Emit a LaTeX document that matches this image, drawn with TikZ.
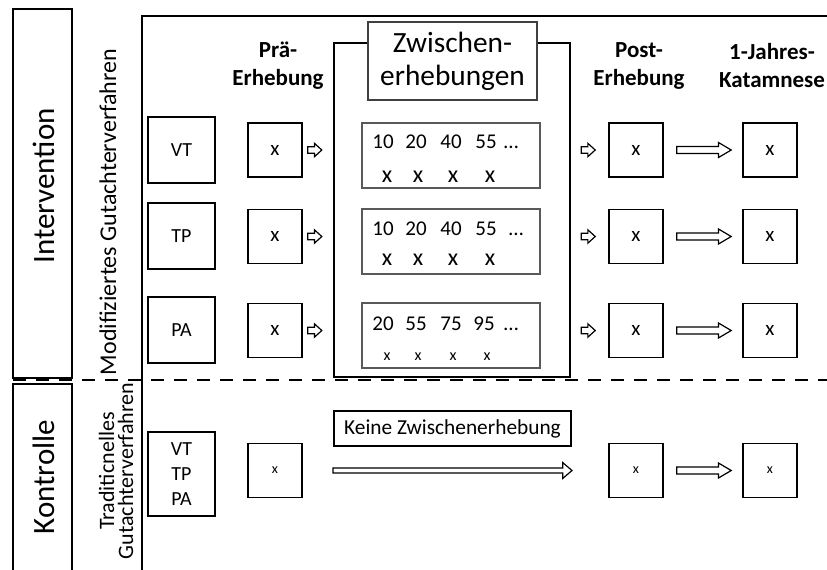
\documentclass[tikz,border=0pt]{standalone}
\usepackage{fontspec}
\setmainfont{Carlito}
\usetikzlibrary{calc}

\tikzset{
  frame/.style={draw, line width=1.5pt},
  sq/.style={draw, line width=1.2pt, inner sep=0pt, minimum width=40.5pt, minimum height=40.5pt,
    font=\fontsize{15.75pt}{18pt}\selectfont},
  grp/.style={draw, line width=1.2pt, inner sep=0pt, minimum width=50.25pt, minimum height=49.5pt,
    align=center, font=\fontsize{15pt}{18.75pt}\selectfont},
  series/.style={draw=black!65, line width=0.8pt, inner sep=0pt, minimum width=133.5pt, minimum height=48.75pt},
  num/.style={anchor=base, inner sep=0pt, font=\fontsize{15.75pt}{18pt}\selectfont},
  mark/.style={anchor=base, inner sep=0pt, font=\fontsize{#1}{18pt}\selectfont},
  head/.style={align=center, inner sep=0pt, font=\bfseries\fontsize{17.25pt}{21pt}\selectfont},
  side/.style={rotate=90, inner sep=0pt, font=\fontsize{23.25pt}{28pt}\selectfont},
  blockarrow/.style n args={3}{draw, fill=white, line width=0.9pt,
    to path={let \p1=(\tikztostart), \p2=(\tikztotarget) in
      (\x1,\y1+#1) -- (\x2-#3,\y1+#1) -- (\x2-#3,\y1+#2) -- (\x2,\y1)
      -- (\x2-#3,\y1-#2) -- (\x2-#3,\y1-#1) -- (\x1,\y1-#1) -- cycle}},
}

\begin{document}
\begin{tikzpicture}[x=0.75pt, y=-0.75pt]
\useasboundingbox (0,0) rectangle (827,569);
\clip (0,0) rectangle (827,569);

% left group labels
\draw[frame] (13,9) rectangle (72,378);
\draw[frame] (13,384) rectangle (72,590);
\node[side] (interv) at (44,186) {Intervention};
\node[side] (kontr) at (44,477) {Kontrolle};
\node[rotate=90, inner sep=0pt, font=\fontsize{18pt}{21pt}\selectfont] (modif) at (108,212)
  {Modifiziertes Gutachterverfahren};
\node[rotate=90, inner sep=0pt, align=center, font=\fontsize{16.5pt}{14.25pt}\selectfont] (trad) at (116,471)
  {Traditicnelles\\Gutachterverfahren};

% outer frame and group separator
\draw[frame] (142,590) -- (142,16) -- (830,16);
\draw[line width=1.5pt, dash pattern=on 9.75pt off 7.5pt] (13,380) -- (830,380);

% column headings
\node[head] (hpre) at (278,66) {Prä-\\Erhebung};
\node[head] (hpost) at (639,66) {Post-\\Erhebung};
\node[head] (hkat) at (772,66) {1-Jahres-\\Katamnese};

% intermediate measurement block
\node[draw, line width=1.5pt, minimum width=177pt, minimum height=250.5pt, inner sep=0pt] (zw) at (452,210) {};
\node[draw=black!75, fill=white, line width=1pt, minimum width=126.75pt, minimum height=58.5pt, inner sep=0pt,
  align=center, font=\fontsize{22pt}{24.75pt}\selectfont] (zwlab) at (452.5,61) {Zwischen-\\erhebungen};

% treatment groups
\node[grp] (g1) at (181.5,150) {VT};
\node[grp] (g2) at (181.5,236) {TP};
\node[grp] (g3) at (181.5,330) {PA};
\node[grp, minimum height=63pt] (g4) at (181.5,474) {VT\\TP\\PA};

% measurement boxes per row: pre, post, follow-up
\foreach \r/\yy in {1/150, 2/236.5, 3/330.5} {
  \node[sq] (pre\r) at (275,\yy) {x};
  \node[sq] (post\r) at (636,\yy) {x};
  \node[sq] (kat\r) at (770,\yy) {x};
}
\node[sq, font=\fontsize{10.5pt}{12pt}\selectfont] (pre4) at (275,470.5) {x};
\node[sq, font=\fontsize{10.5pt}{12pt}\selectfont] (post4) at (636,470.5) {x};
\node[sq, font=\fontsize{10.5pt}{12pt}\selectfont] (kat4) at (770,470.5) {x};

% intermediate measurement series
\node[series] (s1) at (451,155.5) {};
\node[series] (s2) at (451,241.5) {};
\node[series] (s3) at (451,335.5) {};

\foreach \t [count=\i] in {10,20,40,55} {
  \pgfmathsetmacro{\xx}{{383,416,451,486}[\i-1]}
  \node[num] (n1\i) at (\xx,148) {\t};
  \node[num] (n2\i) at (\xx,235) {\t};
}
\node[num] (n15) at (511,148) {…};
\node[num] (n25) at (516,235) {…};
\foreach \t [count=\i] in {20,55,75,95} {
  \pgfmathsetmacro{\xx}{{383,416,451,484}[\i-1]}
  \node[num] (n3\i) at (\xx,330) {\t};
}
\node[num] (n35) at (511,330) {…};

\foreach \i/\xx in {1/387, 2/418, 3/453, 4/490} {
  \node[mark=18pt] (m1\i) at (\xx,182) {x};
  \node[mark=18pt] (m2\i) at (\xx,265) {x};
}
\foreach \i/\xx in {1/387, 2/418, 3/453, 4/487} {
  \node[mark=12pt] (m3\i) at (\xx,360) {x};
}

% arrows between measurements
\foreach \r in {1,2,3} {
  \coordinate (a\r) at ($(pre\r.east)+(5,0)$);
  \coordinate (b\r) at ($(pre\r.east)+(19,0)$);
  \coordinate (c\r) at ($(post\r.west)+(-27,0)$);
  \coordinate (d\r) at ($(post\r.west)+(-13,0)$);
  \draw[blockarrow={2.4pt}{5pt}{5.5pt}] (a\r) to (b\r);
  \draw[blockarrow={2.4pt}{5pt}{5.5pt}] (c\r) to (d\r);
}
\foreach \r in {1,2,3,4} {
  \coordinate (e\r) at ($(post\r.east)+(13,0)$);
  \coordinate (f\r) at ($(kat\r.west)+(-11,0)$);
  \draw[blockarrow={2.6pt}{5.6pt}{9.5pt}] (e\r) to (f\r);
}

% control group: no intermediate measurement
\node[draw, line width=1.5pt, minimum width=177.75pt, minimum height=26.25pt, inner sep=0pt,
  font=\fontsize{16pt}{19pt}\selectfont] (keine) at (452.5,428.5) {Keine Zwischenerhebung};
\coordinate (k1) at (keine.south west |- pre4.center);
\coordinate (k2) at (keine.south east |- pre4.center);
\draw[blockarrow={1.9pt}{6pt}{7pt}] (k1) to (k2);
\end{tikzpicture}
\end{document}
